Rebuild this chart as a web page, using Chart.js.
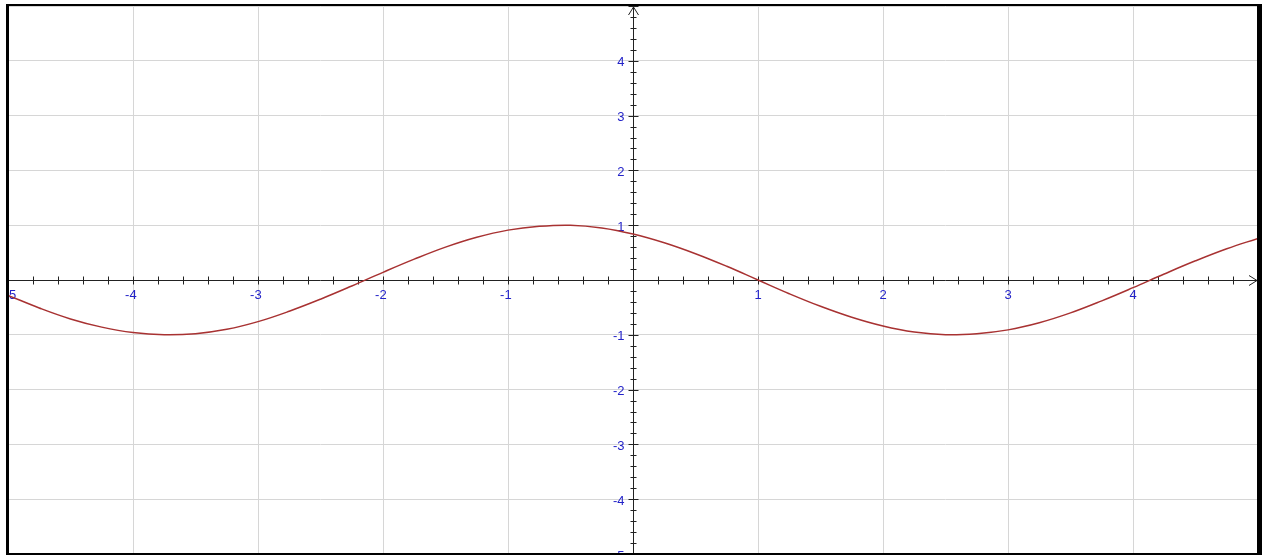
<!DOCTYPE html>
<html>
<head>
<meta charset="utf-8">
<script src="https://cdn.jsdelivr.net/npm/chart.js@4"></script>
<style>
  body { margin: 0; background: #fff; }
  canvas { display: block; }
</style>
</head>
<body>
<canvas id="graph" width="1262" height="555"></canvas>
<script>
// Points, every 0.25 on x
const xValues = [-5, -4.75, -4.5, -4.25, -4, -3.75, -3.5, -3.25, -3, -2.75, -2.5, -2.25, -2, -1.75, -1.5, -1.25, -1, -0.75, -0.5, -0.25,
                 0, 0.25, 0.5, 0.75, 1, 1.25, 1.5, 1.75, 2, 2.25, 2.5, 2.75, 3, 3.25, 3.5, 3.75, 4, 4.25, 4.5, 4.75, 5];
const yValues = [-0.28, -0.51, -0.71, -0.86, -0.96, -1.0, -0.98, -0.9, -0.76, -0.57, -0.35, -0.11, 0.14, 0.38, 0.6, 0.78, 0.91, 0.98, 1.0, 0.95,
                 0.84, 0.68, 0.48, 0.25, 0, -0.25, -0.48, -0.68, -0.84, -0.95, -1.0, -0.98, -0.91, -0.78, -0.6, -0.38, -0.14, 0.11, 0.35, 0.57, 0.76];
const xTickLabels = [-5, -4, -3, -2, -1, 1, 2, 3, 4];
const yTickLabels = [-5, -4, -3, -2, -1, 1, 2, 3, 4];

const labelColor = '#2323c8';
const axisColor = '#222';

// draws the axes through the origin, with minor ticks, labels and arrows
const centerAxes = {
    id: 'centerAxes',
    beforeDatasetsDraw(chart) {
        const ctx = chart.ctx;
        const xs = chart.scales.x, ys = chart.scales.y;
        const area = chart.chartArea;
        const ox = Math.round(xs.getPixelForValue(0)) + 0.5;
        const oy = Math.round(ys.getPixelForValue(0)) + 0.5;

        ctx.save();
        ctx.beginPath();
        ctx.rect(area.left, area.top, area.right - area.left, area.bottom - area.top);
        ctx.clip();

        ctx.strokeStyle = axisColor;
        ctx.lineWidth = 1;
        ctx.beginPath();
        ctx.moveTo(area.left, oy); ctx.lineTo(area.right, oy);
        ctx.moveTo(ox, area.top); ctx.lineTo(ox, area.bottom);

        // ticks every 0.2
        for (let i = -25; i <= 25; i++) {
            const v = i / 5;
            const px = Math.round(xs.getPixelForValue(v)) + 0.5;
            ctx.moveTo(px, oy - 4); ctx.lineTo(px, oy + 4);
            const len = (i % 5 === 0) ? 5 : 3;
            const py = Math.round(ys.getPixelForValue(v)) + 0.5;
            ctx.moveTo(ox - len, py); ctx.lineTo(ox + len, py);
        }
        ctx.stroke();

        // arrows
        ctx.beginPath();
        ctx.moveTo(ox - 5, area.top + 9); ctx.lineTo(ox, area.top + 1); ctx.lineTo(ox + 5, area.top + 9);
        ctx.moveTo(area.right - 9, oy - 5); ctx.lineTo(area.right - 1, oy); ctx.lineTo(area.right - 9, oy + 5);
        ctx.stroke();

        ctx.fillStyle = labelColor;
        ctx.font = '13px "Liberation Sans", Arial, sans-serif';
        ctx.textBaseline = 'middle';
        ctx.textAlign = 'right';
        // digit centred on the tick, minus sign hanging to the left;
        // the digit is kept inside the frame at the left edge
        xTickLabels.forEach(v => {
            const digitW = ctx.measureText(String(Math.abs(v))).width;
            const right = Math.max(xs.getPixelForValue(v) + digitW / 2, area.left + digitW + 1);
            ctx.fillText(String(v), right, oy + 15);
        });
        yTickLabels.forEach(v => {
            ctx.fillText(String(v), ox - 9, ys.getPixelForValue(v) + 2);
        });
        ctx.restore();
    },
    afterDraw(chart) {
        const ctx = chart.ctx;
        ctx.save();
        ctx.fillStyle = '#000';
        ctx.fillRect(6, 4, 1256, 2);     // top
        ctx.fillRect(6, 4, 3, 551);      // left
        ctx.fillRect(1257, 4, 5, 551);   // right
        ctx.fillRect(6, 553, 1256, 2);   // bottom
        ctx.restore();
    }
};

new Chart(document.getElementById('graph').getContext('2d'), {
    type: 'scatter',
    data: {
        datasets: [{
            data: xValues.map((x, i) => ({ x: x, y: yValues[i] })),
            showLine: true,
            borderColor: '#a83232',
            borderWidth: 1.5,
            pointRadius: 0,
            tension: 0.4,
            fill: false
        }]
    },
    options: {
        responsive: false,
        animation: false,
        layout: { padding: { left: 8, right: 4, top: 6, bottom: 1 } },
        plugins: { legend: { display: false }, tooltip: { enabled: false } },
        scales: {
            x: {
                type: 'linear', min: -5, max: 5,
                ticks: { display: false, stepSize: 1 },
                grid: { color: '#d6d6d6', drawTicks: false },
                border: { display: false }
            },
            y: {
                type: 'linear', min: -5, max: 5,
                ticks: { display: false, stepSize: 1 },
                grid: { color: '#d6d6d6', drawTicks: false },
                border: { display: false }
            }
        }
    },
    plugins: [centerAxes]
});
</script>
</body>
</html>
